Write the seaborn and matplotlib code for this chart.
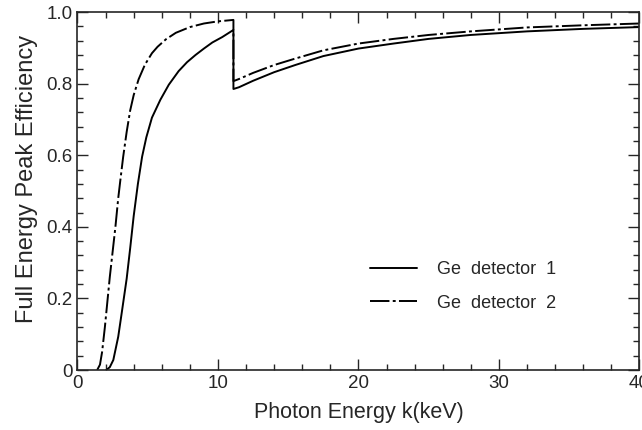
import pandas as pd
import matplotlib.pyplot as plt
import matplotlib.ticker as mticker
import seaborn as sns

# Ge detector 1 (solid) - energy in keV, full energy peak efficiency
energy_1 = [2.05, 2.3, 2.55, 2.9, 3.15, 3.5, 3.75, 4.0, 4.3, 4.6, 4.9, 5.3, 5.9,
            6.5, 7.2, 7.8, 8.4, 9.0, 9.6, 10.3, 11.1, 11.1, 11.5, 12.5, 14.0,
            15.5, 17.5, 20.0, 22.5, 25.0, 28.0, 32.0, 36.0, 40.0]
eff_1 = [0.0, 0.008, 0.028, 0.093, 0.16, 0.255, 0.34, 0.43, 0.52, 0.596, 0.65, 0.705,
         0.755, 0.797, 0.835, 0.86, 0.88, 0.898, 0.915, 0.93, 0.95, 0.785, 0.79,
         0.808, 0.832, 0.852, 0.877, 0.898, 0.912, 0.925, 0.936, 0.946, 0.953, 0.958]

# Ge detector 2 (dash-dot)
energy_2 = [1.4, 1.6, 1.75, 1.95, 2.1, 2.3, 2.5, 2.7, 2.9, 3.05, 3.25, 3.5, 3.75, 4.0,
            4.35, 4.8, 5.3, 5.7, 6.3, 7.0, 8.0, 9.0, 10.0, 11.1, 11.1, 11.5, 12.5, 14.0,
            15.5, 17.5, 20.0, 22.5, 25.0, 28.0, 32.0, 36.0, 40.0]
eff_2 = [0.0, 0.015, 0.05, 0.12, 0.18, 0.26, 0.33, 0.4, 0.48, 0.53, 0.595, 0.665, 0.725,
         0.768, 0.812, 0.853, 0.885, 0.903, 0.924, 0.942, 0.958, 0.968, 0.974, 0.978, 0.807,
         0.813, 0.83, 0.852, 0.87, 0.893, 0.912, 0.925, 0.936, 0.946, 0.957, 0.963, 0.968]

labels = ["Ge  detector  1", "Ge  detector  2"]

df = pd.concat([
    pd.DataFrame({"energy": energy_1, "eff": eff_1, "detector": labels[0]}),
    pd.DataFrame({"energy": energy_2, "eff": eff_2, "detector": labels[1]}),
], ignore_index=True)

sns.set_style("ticks")
plt.rcParams["font.family"] = ["Liberation Sans", "DejaVu Sans"]

fig = plt.figure(figsize=(6.42, 4.30), dpi=100)
ax = fig.add_axes([0.1207, 0.1395, 0.8753, 0.8325])

sns.lineplot(data=df, x="energy", y="eff", hue="detector", style="detector",
             palette=["black", "black"], dashes=["", (10, 1.7, 1.5, 1.7)],
             estimator=None, sort=False, linewidth=1.4, ax=ax)

ax.set_xlim(0, 40)
ax.set_ylim(0, 1.0)
ax.xaxis.set_major_locator(mticker.MultipleLocator(10))
ax.xaxis.set_minor_locator(mticker.MultipleLocator(2))
ax.yaxis.set_major_locator(mticker.MultipleLocator(0.2))
ax.yaxis.set_minor_locator(mticker.MultipleLocator(0.04))
ax.yaxis.set_major_formatter(mticker.FuncFormatter(lambda v, p: "0" if v == 0 else f"{v:.1f}"))
ax.tick_params(which="both", direction="in", top=True, right=True, labelsize=13.5, width=1)
ax.tick_params(which="major", length=8)
ax.tick_params(which="minor", length=4)
for s in ax.spines.values():
    s.set_linewidth(1.2)

ax.set_xlabel("Photon Energy k(keV)", fontsize=15.5, labelpad=7)
ax.set_ylabel("Full Energy Peak Efficiency", fontsize=17)
ax.yaxis.set_label_coords(-0.07, 0.535)

ax.legend(loc="center left", bbox_to_anchor=(0.52, 0.233), frameon=False,
          fontsize=13, handlelength=2.6, handletextpad=1.1, labelspacing=0.9,
          borderpad=0, borderaxespad=0)

fig.savefig("out.png", dpi=100)
